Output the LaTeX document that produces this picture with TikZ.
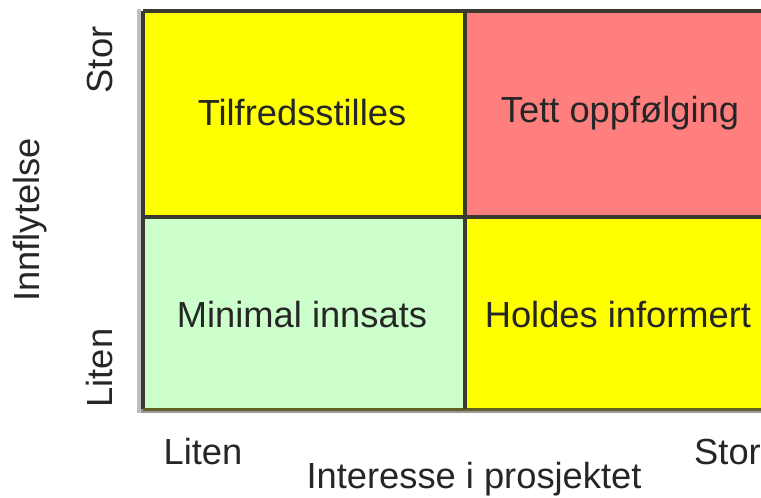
\documentclass[tikz,border=0pt]{standalone}
\usepackage{fontspec}
\setmainfont{Liberation Sans}
\definecolor{cyel}{HTML}{FFFF00}
\definecolor{cred}{HTML}{FF7F7F}
\definecolor{cgrn}{HTML}{CCFFCC}
\definecolor{cline}{HTML}{3A3A30}
\definecolor{ctext}{HTML}{262626}
\begin{document}
\begin{tikzpicture}[x=1pt,y=-1pt,
  lbl/.style={text=ctext,font=\fontsize{36.3}{40}\selectfont,inner sep=0pt,anchor=center},
  gridline/.style={draw=cline,line width=4.5pt}]
\useasboundingbox (0,0) rectangle (761,498);
\begin{scope}
\clip (0,0) rectangle (761,498);
% shadow strips
\fill[black!25] (137,9) rectangle (141,413);
\fill[black!40] (141,409) rectangle (775,413);
% cells
\fill[cyel] (143,11) rectangle (465,217);
\fill[cred] (465,11) rectangle (775,217);
\fill[cgrn] (143,217) rectangle (465,409);
\fill[cyel] (465,217) rectangle (775,409);
% grid
\coordinate (tl) at (143,11);
\coordinate (tr) at (775,11);
\coordinate (bl) at (143,409);
\coordinate (br) at (775,409);
\coordinate (mt) at (465,11);
\coordinate (mb) at (465,409);
\coordinate (ml) at (143,217);
\coordinate (mr) at (775,217);
\draw[gridline] (tl) -- (tr);
\draw[gridline] (tl) -- (bl);
\draw[draw=cline!80!cyel,line width=3pt] (bl) -- (br);
\draw[gridline] (mt) -- (mb);
\draw[gridline] (ml) -- (mr);
\end{scope}
% cell labels
\node[lbl] (c1) at (302,113) {Tilfredsstilles};
\node[lbl] (c2) at (620,113) {Tett oppfølging};
\node[lbl] (c3) at (302,315) {Minimal innsats};
\node[lbl] (c4) at (618,315) {Holdes informert};
% axis labels
\node[lbl] (xl) at (203,452) {Liten};
\node[lbl,anchor=west] (xs) at (694,452) {Stor};
\node[lbl] (xt) at (474,479) {Interesse i prosjektet};
\node[lbl,rotate=90] (ys) at (100,60) {Stor};
\node[lbl,rotate=90] (yl) at (100,368) {Liten};
\node[lbl,rotate=90] (yt) at (30,220) {Innflytelse};
\end{tikzpicture}
\end{document}
